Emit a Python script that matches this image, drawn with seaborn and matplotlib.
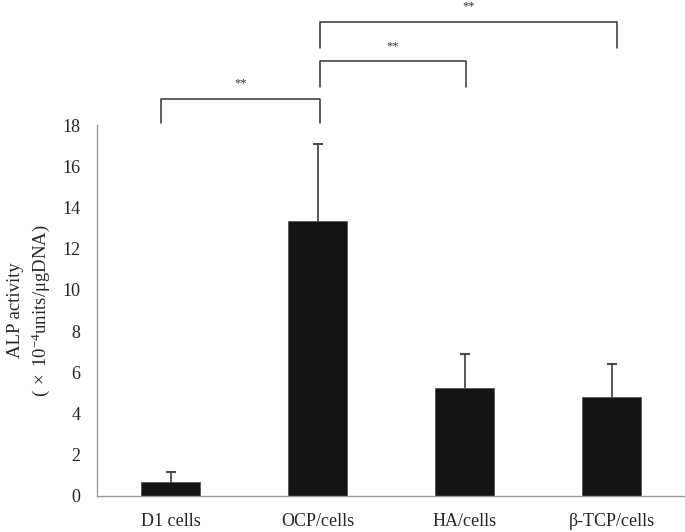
import matplotlib
matplotlib.use("Agg")
import matplotlib.pyplot as plt
import seaborn as sns
import numpy as np

groups = ["D1 cells", "OCP/cells", "HA/cells", "β-TCP/cells"]
means = [0.66, 13.35, 5.23, 4.79]
sds = [0.52, 3.72, 1.65, 1.63]

# significance brackets: (left x, right x, bar height, leg bottom, label)
brackets = [
    (-0.065, 1.015, 19.26, 18.1, "**"),
    (1.015, 2.01, 21.1, 19.85, "**"),
    (1.015, 3.04, 23.0, 21.74, "**"),
]

sns.set_style("white")
plt.rcParams["font.family"] = ["Liberation Serif", "DejaVu Serif"]
plt.rcParams["mathtext.fontset"] = "custom"
plt.rcParams["mathtext.rm"] = "Liberation Serif"

fig = plt.figure(figsize=(6.85, 5.32), dpi=100)
ax = fig.add_axes([97 / 685, 1 - 496 / 532, 1 - 97 / 685, (496 - 125) / 532])

# symmetric error bars drawn under the bars, so only the upper half shows
ax.errorbar(np.arange(len(groups)), means, yerr=sds,
            fmt="none", ecolor="#4a4a4a", elinewidth=1.3, capsize=3.5,
            capthick=1.5, zorder=1)
sns.barplot(x=groups, y=means, color="#141414", width=0.4, saturation=1,
            edgecolor="#555555", linewidth=0.6, ax=ax, zorder=2)

ax.set_ylim(0, 18)
ax.set_xlim(-0.5, 3.5)
ax.set_yticks(np.arange(0, 19, 2))
ax.set_xticks(np.arange(-0.5, 3.6, 1), minor=True)
ax.tick_params(axis="x", which="major", length=0, labelsize=13, pad=12)
ax.tick_params(axis="x", which="minor", length=6, color="#888888", direction="out")
ax.tick_params(axis="y", length=4, color="#888888", labelsize=13, direction="out", pad=8)

for s in ["top", "right"]:
    ax.spines[s].set_visible(False)
for s in ["left", "bottom"]:
    ax.spines[s].set_color("#999999")
    ax.spines[s].set_linewidth(1.0)

ax.set_xlabel("")
ax.set_ylabel("ALP activity\n" + r"$\mathregular{(\,\times\,10^{-4}units/μgDNA)}$",
              fontsize=13.5, linespacing=1.35, labelpad=7)

for x1, x2, h, b, lab in brackets:
    ax.plot([x1, x1, x2, x2], [b, h, h, b], color="#333333", lw=1.1, clip_on=False)
    ax.text((x1 + x2) / 2, h + 0.45, lab, ha="center", va="bottom",
            fontsize=9, color="#333333", clip_on=False)

fig.savefig("out.png", dpi=100)
